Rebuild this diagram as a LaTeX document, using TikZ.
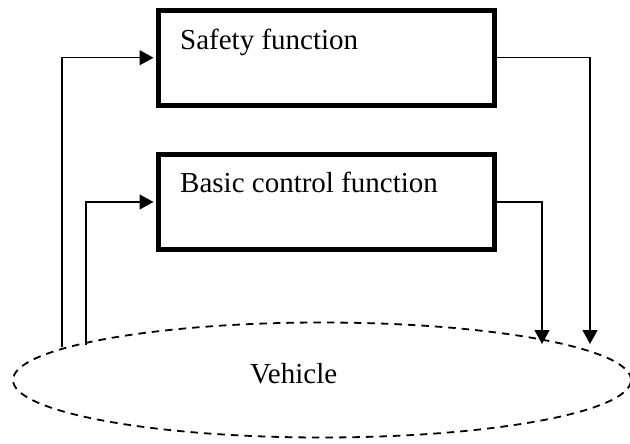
\documentclass[tikz,border=0pt]{standalone}
\usepackage{fontspec}
\setmainfont{Liberation Serif}
\usetikzlibrary{arrows.meta,shapes.geometric}

\tikzset{
  funcbox/.style={draw, line width=5pt, rectangle, minimum width=336pt,
    minimum height=95pt, inner sep=0pt},
  boxtext/.style={anchor=base west, inner sep=0pt,
    font=\fontsize{29}{34}\selectfont},
  plant/.style={draw, ellipse, line width=1.8pt,
    dash pattern=on 7.5pt off 6pt, minimum width=618pt, minimum height=115pt,
    inner sep=0pt},
  conn/.style={line width=1.3pt, -{Triangle[length=14pt,width=15pt]}},
}

\begin{document}
\begin{tikzpicture}[x=1pt, y=-1pt]
  \useasboundingbox (0,0) rectangle (630,444);

  % function blocks
  \node[funcbox] (safety) at (326.5,57.75) {};
  \node[funcbox] (basic)  at (326.5,202) {};
  \node[boxtext] (safetytxt) at (180,50) {Safety function};
  \node[boxtext] (basictxt)  at (180,193) {Basic control function};

  % controlled system
  \node[plant] (vehicle) at (322,380) {};
  \node[boxtext] (vehicletxt) at (250,383) {Vehicle};

  % points where the signal lines meet the vehicle outline
  \coordinate (fbS) at (62,347);
  \coordinate (fbB) at (86,345);
  \coordinate (inB) at (542,344);
  \coordinate (inS) at (590,344);

  % feedback from the vehicle to the functions
  \draw[conn, shorten >=2.5pt] (fbS) |- (safety.west);
  \draw[conn, shorten >=2.5pt] (fbB) |- (basic.west);

  % outputs of the functions acting on the vehicle
  \draw[conn] (safety.east) -| (inS);
  \draw[conn] (basic.east) -| (inB);
\end{tikzpicture}
\end{document}
